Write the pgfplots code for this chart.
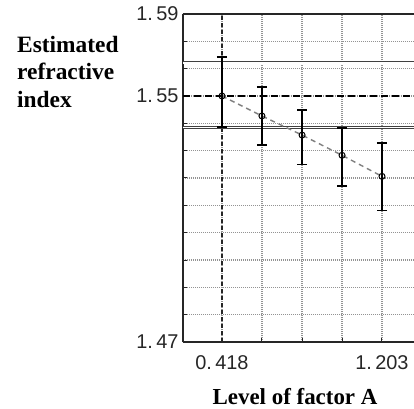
\documentclass[border=0pt]{standalone}
\usepackage{fontspec}
\setmainfont{Liberation Serif}
\newfontfamily\tickfont{Liberation Sans}
\usepackage{pgfplots}
\pgfplotsset{compat=1.18}
\begin{document}
\begin{tikzpicture}
\begin{axis}[
  at={(0,0)}, anchor=south west,
  scale only axis, width=231bp, height=328bp,
  xmin=0.2267, xmax=1.360, ymin=1.465, ymax=1.585,
  axis x line*=box, axis y line*=left,
  axis line style={black!85, line width=1.3bp},
  xtick={0.418,1.203}, xticklabels={0.\,418,1.\,203},
  minor xtick={0.614,0.811,1.007},
  ytick={1.465,1.555,1.585}, yticklabels={1.\,47,1.\,55,1.\,59},
  minor ytick={1.475,1.485,1.495,1.505,1.515,1.525,1.535,1.545,1.565,1.575},
  xtick pos=bottom, ytick pos=left,
  tick align=inside,
  major tick length=4bp, minor tick length=4bp,
  tick style={black!85, line width=1bp},
  grid=both,
  major grid style={gray!85, line width=1.2bp, dash pattern=on 1bp off 1bp},
  minor grid style={gray!85, line width=1.2bp, dash pattern=on 1bp off 1bp},
  tick label style={font=\tickfont\fontsize{20}{20}\selectfont, text=black!85},
  yticklabel style={xshift=-1bp},
  xticklabel style={yshift=-10bp},
  xlabel={Level of factor A},
  xlabel style={at={(axis description cs:0.485,0)}, anchor=base, yshift=-62bp, inner sep=0pt,
    font=\bfseries\fontsize{23}{27}\selectfont},
  ylabel={Estimated\\refractive\\index},
  ylabel style={rotate=-90, align=left, at={(axis description cs:0,1)}, anchor=north west,
    xshift=-166bp, yshift=-22bp, inner sep=0pt,
    font=\bfseries\fontsize{23.5}{27.5}\selectfont},
]
% reference vertical line at first level
\addplot[black!85, line width=1.1bp, dash pattern=on 4bp off 3bp] coordinates {(0.418,1.465) (0.418,1.585)};
% control limits
\addplot[draw=black!75, line width=0.9bp, double=white, double distance=1.3bp] coordinates {(0.2267,1.5671) (1.360,1.5671)};
\addplot[draw=black!75, line width=0.9bp, double=white, double distance=1.3bp] coordinates {(0.2267,1.5434) (1.360,1.5434)};
% grand mean
\addplot[black, line width=1.6bp, dash pattern=on 7bp off 4bp] coordinates {(0.2267,1.555) (1.360,1.555)};
% level means with intervals
\addplot[gray, line width=1.4bp, dash pattern=on 5bp off 4bp,
  mark=o, mark size=3bp, mark options={solid, draw=black, fill=white, line width=1bp},
  error bars/.cd, y dir=both, y explicit,
  error bar style={solid, black, line width=1.4bp},
  error mark options={rotate=90, mark size=5bp, line width=1.4bp, black}]
  table[x=x, y=y, y error plus=ep, y error minus=em] {
x      y       ep      em
0.418  1.5550  0.0143  0.0114
0.614  1.5477  0.0106  0.0107
0.811  1.5407  0.0092  0.0107
1.007  1.5333  0.0100  0.0113
1.203  1.5256  0.0122  0.0124
};
\end{axis}
\pgfresetboundingbox
\path[use as bounding box] (-183bp,-67bp) rectangle (231bp,342bp);
\end{tikzpicture}
\end{document}
